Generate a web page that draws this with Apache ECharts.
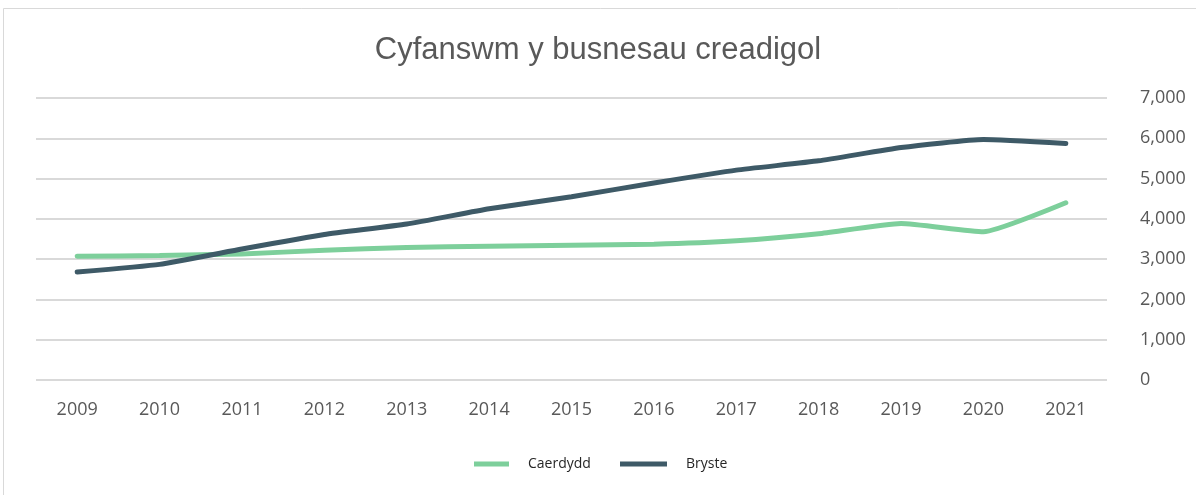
<!DOCTYPE html>
<html><head><meta charset="utf-8">
<script src="https://cdn.jsdelivr.net/npm/echarts@6/dist/echarts.min.js"></script>
<style>html,body{margin:0;padding:0;background:#fff}#c{width:1196px;height:495px}</style>
</head><body><div id="c"></div>
<script>
const years = ['2009','2010','2011','2012','2013','2014','2015','2016','2017','2018','2019','2020','2021'];
const caerdydd = [3070, 3090, 3130, 3220, 3290, 3320, 3345, 3370, 3455, 3630, 3885, 3680, 4400];
const bryste = [2680, 2870, 3250, 3610, 3870, 4250, 4550, 4890, 5210, 5440, 5770, 5970, 5870];
const seriesNames = ['Caerdydd', 'Bryste'];
const colors = ['#7dcf9b', '#3e5a67'];

const legendText = {fontFamily: 'Open Sans', fontSize: 14, color: '#262626', padding: [0,0,0,14], lineHeight: 18};
const chart = echarts.init(document.getElementById('c'), null, {renderer: 'canvas'});
chart.setOption({
  animation: false,
  backgroundColor: '#fff',
  graphic: [{type: 'rect', shape: {x: 3.5, y: 8.5, width: 1200, height: 500}, style: {fill: 'none', stroke: '#d9d9d9', lineWidth: 1}}],
  title: {text: 'Cyfanswm y busnesau creadigol', left: 'center', top: 30,
    textStyle: {fontFamily: 'Liberation Sans', fontSize: 31, fontWeight: 'normal', color: '#595959'}},
  legend: [
    {left: 474, top: 455, padding: 0, itemWidth: 35, itemHeight: 5, icon: 'rect',
      textStyle: legendText, data: [seriesNames[0]]},
    {left: 620, top: 455, padding: 0, itemWidth: 47, itemHeight: 5, icon: 'rect',
      textStyle: legendText, data: [seriesNames[1]]}
  ],
  grid: {left: 36, right: 89, top: 98, bottom: 115, containLabel: false},
  xAxis: {type: 'category', data: years, boundaryGap: true,
    axisLine: {show: false}, axisTick: {show: false},
    axisLabel: {fontFamily: 'Open Sans', fontSize: 18, color: '#595959', margin: 21}},
  yAxis: {type: 'value', position: 'right', min: 0, max: 7000, interval: 1000,
    axisLine: {show: false}, axisTick: {show: false},
    splitLine: {lineStyle: {color: '#d9d9d9', width: 2}},
    axisLabel: {fontFamily: 'Open Sans', fontSize: 18, color: '#595959', margin: 33,
      formatter: v => v.toLocaleString('en-US')}},
  series: [
    {name: seriesNames[0], type: 'line', data: caerdydd, symbol: 'none', smooth: 0.15,
      lineStyle: {width: 5, color: colors[0], cap: 'round'}, itemStyle: {color: colors[0]}},
    {name: seriesNames[1], type: 'line', data: bryste, symbol: 'none', smooth: 0.15,
      lineStyle: {width: 5, color: colors[1], cap: 'round'}, itemStyle: {color: colors[1]}}
  ]
});
</script></body></html>
